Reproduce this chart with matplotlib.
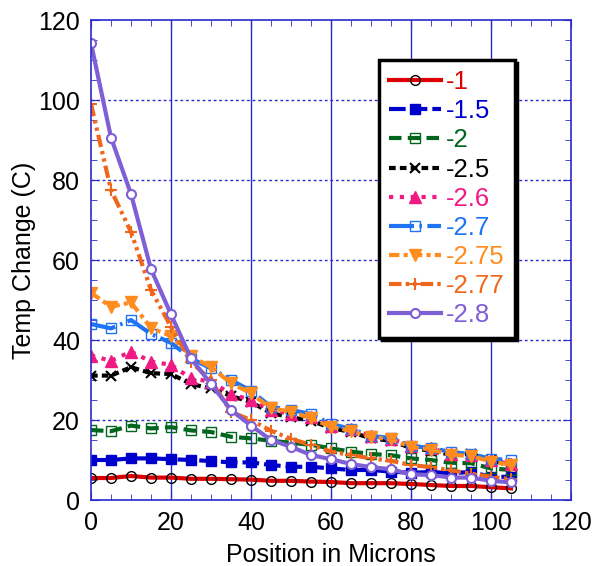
import numpy as np
import matplotlib
matplotlib.use("Agg")
import matplotlib.pyplot as plt
from matplotlib.ticker import MultipleLocator

plt.rcParams['font.family'] = ['Liberation Sans', 'DejaVu Sans']

# position along the sample (microns), one reading every 5 um
position = np.arange(0, 110, 5)

t_1 = [5.5, 5.5, 6.0, 5.6, 5.6, 5.3, 5.3, 5.2, 5.1, 4.8, 4.8,
       4.6, 4.5, 4.2, 4.2, 4.2, 4.0, 3.75, 3.5, 3.5, 3.2, 2.9]
t_1_5 = [10.0, 10.0, 10.4, 10.4, 10.2, 10.0, 9.75, 9.4, 9.4, 8.75, 8.3,
         8.3, 7.9, 7.5, 7.5, 7.1, 6.8, 7.0, 6.7, 7.0, 5.8, 5.8]
t_2 = [17.5, 17.2, 18.6, 17.9, 18.2, 17.4, 17.0, 15.8, 15.4, 14.8, 14.3,
       13.8, 12.9, 12.1, 11.5, 11.2, 10.4, 10.0, 9.3, 9.2, 7.9, 7.5]
t_2_5 = [31.1, 31.1, 33.2, 31.7, 31.5, 29.0, 27.9, 26.0, 24.5, 21.7, 20.7,
         19.8, 18.0, 17.0, 15.4, 14.8, 13.0, 12.3, 11.3, 11.5, 10.0, 8.5]
t_2_6 = [36.1, 34.8, 37.1, 34.6, 33.8, 30.4, 29.6, 26.5, 25.0, 22.5, 21.5,
         20.8, 18.6, 17.7, 16.0, 15.3, 13.6, 12.9, 11.6, 11.3, 10.0, 9.0]
t_2_7 = [44.0, 42.9, 45.0, 41.5, 39.3, 35.4, 32.9, 30.0, 27.3, 23.3, 22.5,
         21.5, 19.0, 17.8, 16.0, 15.5, 13.5, 13.0, 12.0, 11.5, 10.3, 10.0]
t_2_75 = [51.8, 48.3, 49.4, 43.0, 41.0, 36.0, 33.2, 29.2, 26.7, 22.9, 22.1,
          20.4, 18.3, 17.3, 15.7, 15.2, 13.2, 12.6, 11.3, 11.0, 9.6, 8.8]
t_2_77 = [99.0, 77.5, 67.0, 52.5, 43.3, 34.5, 30.0, 22.0, 20.0, 17.3, 15.3,
          13.75, 12.1, 11.25, 10.4, 9.8, 8.75, 8.2, 7.4, 6.6, 5.8, 5.2]
t_2_8 = [114.2, 90.6, 76.5, 57.7, 46.4, 35.4, 29.0, 22.5, 18.6, 15.0, 13.3,
         11.25, 10.2, 9.0, 8.2, 7.7, 6.4, 6.25, 5.6, 5.6, 4.8, 4.4]

labels = ["-1", "-1.5", "-2", "-2.5", "-2.6", "-2.7", "-2.75", "-2.77", "-2.8"]
series = [t_1, t_1_5, t_2, t_2_5, t_2_6, t_2_7, t_2_75, t_2_77, t_2_8]

styles = [
    dict(color="#DD0000", ls="-", marker="o", mfc="none", mec="black", ms=7, mew=1),
    dict(color="#0000CC", ls=(0, (4, 1.2)), marker="s", ms=7),
    dict(color="#00661E", ls=(0, (3, 1.5)), marker="s", mfc="none", ms=7, mew=1),
    dict(color="black", ls=(0, (1.6, 1)), marker="x", ms=7, mew=1.5),
    dict(color="#F01A85", ls=(0, (1, 1.6)), marker="^", ms=8),
    dict(color="#1F74F5", ls=(0, (6, 1.3, 0.6, 1.3)), marker="s", mfc="none", ms=7, mew=1),
    dict(color="#FF8C1E", ls=(0, (2.5, 1, 1, 1)), marker="v", ms=8),
    dict(color="#F0661A", ls=(0, (3, 1, 0.8, 1, 0.8, 1)), marker="+", ms=9, mew=1.5),
    dict(color="#7F5FD6", ls="-", marker="o", mfc="white", ms=6.5, mew=1.5),
]

fig = plt.figure(figsize=(5.94, 5.66), dpi=100)
ax = fig.add_axes([91 / 594, 66 / 566, 480 / 594, 480 / 566])

grid_blue = "#2A2ACC"
for gx in range(20, 120, 20):
    ax.axvline(gx, color=grid_blue, lw=1, zorder=0)
for gy in range(20, 120, 20):
    ax.axhline(gy, color=grid_blue, lw=1, ls=(0, (2, 2)), zorder=0)

for vals, lab, st in zip(series, labels, styles):
    ax.plot(position, vals, lw=3, label=lab, **st)

ax.set_xlim(0, 120)
ax.set_ylim(0, 120)
ax.xaxis.set_major_locator(MultipleLocator(20))
ax.xaxis.set_minor_locator(MultipleLocator(5))
ax.yaxis.set_major_locator(MultipleLocator(20))
ax.yaxis.set_minor_locator(MultipleLocator(5))
ax.tick_params(which="both", direction="in", top=True, right=True,
               color=grid_blue, labelsize=18, pad=8)
ax.tick_params(which="major", length=6)
ax.tick_params(which="minor", length=4)
for sp in ax.spines.values():
    sp.set_color(grid_blue)
    sp.set_linewidth(1.2)

ax.set_xlabel("Position in Microns", fontsize=18, labelpad=6)
fig.text(24 / 594, 0.5406, "Temp Change (C)", fontsize=18,
         rotation=90, ha="center", va="center")

leg = ax.legend(loc="upper left", bbox_to_anchor=(0.6, 0.917), fontsize=18.5,
                frameon=True, fancybox=False, framealpha=1,
                edgecolor="black", labelcolor="linecolor",
                handlelength=2.0, handletextpad=0.2, labelspacing=0.2,
                borderpad=0.4, borderaxespad=0,
                shadow={"color": "black", "alpha": 1.0})
leg.get_frame().set_linewidth(2.5)

fig.savefig("out.png", dpi=100)
